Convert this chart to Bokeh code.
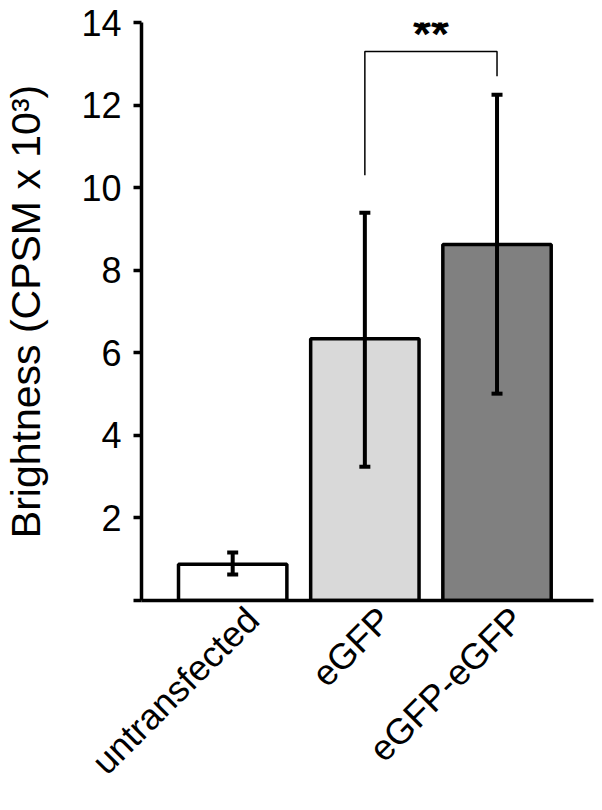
import math
from bokeh.plotting import figure
from bokeh.models import (ColumnDataSource, Range1d, Whisker, TeeHead,
                          FixedTicker, Label)
from bokeh.embed import file_html
from bokeh.resources import INLINE

# ---- data ----
categories = ["untransfected", "eGFP", "eGFP-eGFP"]
means = [0.88, 6.34, 8.62]
err_lower = [0.63, 3.24, 5.01]
err_upper = [1.16, 9.39, 12.25]
bar_colors = ["#ffffff", "#d9d9d9", "#808080"]
y_ticks = [0, 2, 4, 6, 8, 10, 12, 14]

# significance bracket between eGFP and eGFP-eGFP
bracket_pair = ["eGFP", "eGFP-eGFP"]
bracket_y = [10.3, 13.3, 13.3, 12.7]
sig_text = "**"

FONT = "Liberation Sans"

# category slots: label ticks at 1..n, bars a little to the left of their (rotated) label end
LABEL_SHIFT = 0.15
slots = list(range(1, len(categories) + 1))
xs = [s - LABEL_SHIFT for s in slots]
pos = dict(zip(categories, xs))

src = ColumnDataSource(dict(x=xs, top=means, lower=err_lower,
                            upper=err_upper, color=bar_colors))

p = figure(x_range=Range1d(xs[0] - 0.69, xs[-1] + 0.73),
           y_range=Range1d(0, 14),
           width=594, height=800, output_backend="svg", toolbar_location=None,
           min_border_left=138, min_border_right=1, min_border_top=22,
           min_border_bottom=200)

p.vbar(x="x", top="top", width=0.82, source=src, fill_color="color",
       line_color="black", line_width=3.5)

wh = Whisker(base="x", upper="upper", lower="lower", source=src,
             line_width=4, line_color="black", level="overlay",
             upper_head=TeeHead(size=11, line_width=4, line_color="black"),
             lower_head=TeeHead(size=11, line_width=4, line_color="black"))
p.add_layout(wh)

bx0, bx1 = pos[bracket_pair[0]], pos[bracket_pair[1]]
p.line(x=[bx0, bx0, bx1, bx1], y=bracket_y, line_color="black", line_width=1.5)

p.add_layout(Label(x=(bx0 + bx1) / 2, y=13.72, text=sig_text, text_font=FONT,
                   text_font_size="46px", text_font_style="bold",
                   text_align="center", text_baseline="alphabetic",
                   text_color="black"))

# styling
p.grid.visible = False
p.outline_line_color = None
p.background_fill_color = "white"

ya = p.yaxis[0]
ya.ticker = FixedTicker(ticks=y_ticks)
ya.major_label_overrides = {0: ""}
ya.minor_tick_line_color = None
ya.major_tick_in = 0
ya.major_tick_out = 8
ya.major_tick_line_width = 3.5
ya.axis_line_width = 3.5
ya.major_label_text_font = FONT
ya.major_label_text_font_size = "36px"
ya.major_label_text_color = "black"
ya.major_label_standoff = 12
ya.axis_label = "Brightness (CPSM x 10³)"
ya.axis_label_text_font = FONT
ya.axis_label_text_font_size = "41px"
ya.axis_label_text_font_style = "normal"
ya.axis_label_text_color = "black"
ya.axis_label_standoff = 29

xa = p.xaxis[0]
xa.ticker = FixedTicker(ticks=slots)
xa.major_label_overrides = dict(zip(slots, categories))
xa.major_tick_line_color = None
xa.minor_tick_line_color = None
xa.axis_line_width = 3.5
xa.major_label_orientation = math.pi / 4
xa.major_label_text_font = FONT
xa.major_label_text_font_size = "36px"
xa.major_label_text_color = "black"
xa.major_label_standoff = 7

open("out.html", "w").write(file_html(p, INLINE))
